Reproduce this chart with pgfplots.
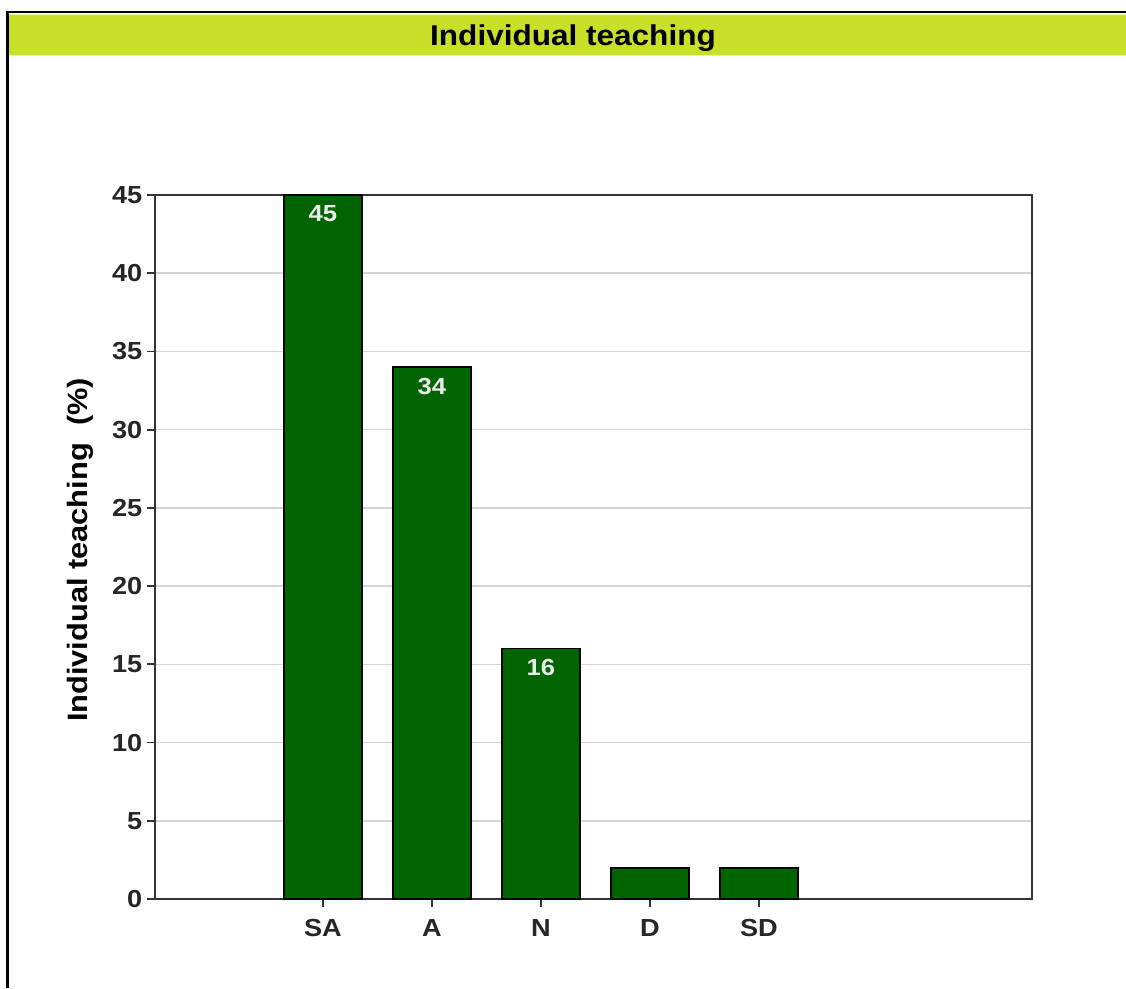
\documentclass[border=0pt]{standalone}
\usepackage{pgfplots}
\pgfplotsset{compat=1.18}
\usepackage{fontspec}
\setmainfont[FakeStretch=1.1]{Liberation Sans}
\definecolor{titlebar}{RGB}{201,224,40}
\definecolor{titlehl}{RGB}{232,242,160}
\definecolor{bargreen}{RGB}{0,100,0}
\definecolor{gridgray}{RGB}{212,212,212}
\begin{document}
\begin{tikzpicture}
\useasboundingbox (0,0) rectangle (844.5pt,741pt);
% frame and title bar
\fill[titlebar] (6.75pt,699.75pt) rectangle (844.5pt,730.5pt);
\draw[titlehl,line width=0.9pt] (7.5pt,729.9pt) -- (844.5pt,729.9pt);
\draw[titlehl,line width=0.9pt] (7.5pt,699.6pt) -- (844.5pt,699.6pt);
\draw[black,line width=1.6pt] (5.6pt,0pt) -- (5.6pt,731.8pt) -- (844.5pt,731.8pt);
\node[font=\fontsize{21.5}{24}\selectfont\bfseries] at (429.75pt,712.5pt) {Individual teaching};
\begin{axis}[
  at={(116.25pt,66.75pt)}, anchor=south west,
  scale only axis, width=657.75pt, height=528pt,
  xmin=-1.541, xmax=6.505, ymin=0, ymax=45,
  xtick={0,1,2,3,4}, xticklabels={SA,A,N,D,SD},
  ytick={0,5,10,15,20,25,30,35,40,45},
  xtick pos=left, ytick pos=left,
  tick align=outside, major tick length=6pt,
  tick style={line width=1.3pt, black!80},
  axis line style={line width=1.4pt, black!80},
  ymajorgrids, grid style={gridgray, line width=1.1pt},
  x tick label style={font=\fontsize{18.5}{21}\selectfont\bfseries, text=black!85, yshift=-6pt},
  y tick label style={font=\fontsize{18.5}{21}\selectfont\bfseries, text=black!85},
  /pgf/number format/assume math mode=true,
  clip=false,
]
\addplot[ybar, bar width=58.5pt, fill=bargreen, draw=black, line width=1.2pt]
  coordinates {(0,45) (1,34) (2,16) (3,2) (4,2)};
\addplot[only marks, mark=none, nodes near coords,
  point meta=y,
  every node near coord/.style={anchor=north, inner sep=0pt, yshift=-8pt,
    font=\fontsize{17.5}{20}\selectfont\bfseries, text=white!92!black}]
  coordinates {(0,45) (1,34) (2,16)};
\end{axis}
\node[rotate=90, font=\fontsize{21}{24}\selectfont\bfseries] at (60pt,328.5pt) {Individual teaching\ \ (\%)};
\end{tikzpicture}
\end{document}
